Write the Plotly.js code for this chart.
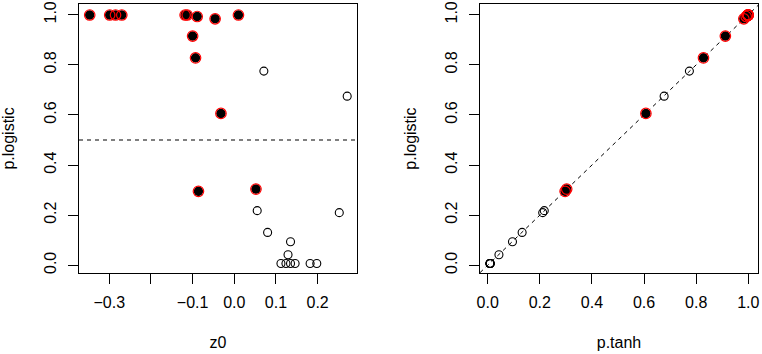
<!DOCTYPE html>
<html>
<head>
<meta charset="utf-8">
<script src="https://cdn.plot.ly/plotly-3.0.1.min.js"></script>
<style>html,body{margin:0;padding:0;background:#fff;}#chart{width:762px;height:354px;}</style>
</head>
<body>
<div id="chart"></div>
<script>
// ---- data ----
const z0 = [-0.347, -0.299, -0.285, -0.270, -0.118, -0.113, -0.089, -0.046, 0.010,
            -0.100, -0.093, -0.032, -0.086, 0.052,
            0.071, 0.271, 0.055, 0.080, 0.135, 0.129,
            0.112, 0.124, 0.135, 0.146, 0.182, 0.198, 0.252];
const p_logistic = [0.999, 0.999, 0.999, 0.999, 0.999, 0.999, 0.993, 0.984, 0.999,
                    0.915, 0.828, 0.606, 0.295, 0.304,
                    0.775, 0.675, 0.218, 0.131, 0.094, 0.042,
                    0.007, 0.007, 0.007, 0.007, 0.007, 0.007, 0.210];
const p_tanh = [0.999, 0.999, 0.999, 0.999, 0.999, 0.999, 0.992, 0.983, 0.999,
                0.912, 0.828, 0.607, 0.297, 0.303,
                0.774, 0.677, 0.217, 0.132, 0.095, 0.043,
                0.009, 0.009, 0.009, 0.009, 0.009, 0.009, 0.211];
const selected = [1,1,1,1,1,1,1,1,1, 1,1,1,1,1, 0,0,0,0,0,0, 0,0,0,0,0,0,0];
const threshold = 0.5;
const xTicksLeft = [-0.3, -0.2, -0.1, 0.0, 0.1, 0.2];
const xTickTextLeft = ["\u22120.3", "", "\u22120.1", "0.0", "0.1", "0.2"];
const xTicksRight = [0, 0.2, 0.4, 0.6, 0.8, 1.0];
const xTickTextRight = ["0.0", "0.2", "0.4", "0.6", "0.8", "1.0"];
const yTicks = [0, 0.2, 0.4, 0.6, 0.8, 1.0];
const yTickText = ["0.0", "0.2", "0.4", "0.6", "0.8", "1.0"];

// ---- build traces ----
function panelTraces(xs, ys, xa, ya) {
  const selX = xs.filter((_, i) => selected[i]);
  const selY = ys.filter((_, i) => selected[i]);
  return [
    {x: xs, y: ys, xaxis: xa, yaxis: ya, type: 'scatter', mode: 'markers', hoverinfo: 'skip',
     marker: {symbol: 'circle-open', size: 8, color: 'black', line: {width: 1.1, color: 'black'}}},
    {x: selX, y: selY, xaxis: xa, yaxis: ya, type: 'scatter', mode: 'markers', hoverinfo: 'skip',
     marker: {symbol: 'circle', size: 9, color: 'black', line: {width: 0}}},
    {x: selX, y: selY, xaxis: xa, yaxis: ya, type: 'scatter', mode: 'markers', hoverinfo: 'skip',
     marker: {symbol: 'circle-open', size: 10.5, color: 'red', line: {width: 1.2, color: 'red'}}}
  ];
}
const data = [].concat(
  panelTraces(z0, p_logistic, 'x', 'y'),
  panelTraces(p_tanh, p_logistic, 'x2', 'y2')
);

const fontFam = '"Liberation Sans", Arial, Helvetica, sans-serif';
const axisCommon = {
  showgrid: false, zeroline: false, showline: true, mirror: true,
  linecolor: 'black', linewidth: 1, ticks: 'outside', ticklen: 10, tickwidth: 1,
  tickcolor: 'black', tickfont: {family: fontFam, size: 16, color: 'black'}, automargin: false
};
const xCommon = Object.assign({}, axisCommon, {ticklabelstandoff: 5,
  title: {font: {family: fontFam, size: 16, color: 'black'}, standoff: 26}});
const yCommon = Object.assign({}, axisCommon, {tickangle: -90, ticklabelstandoff: 6,
  tickmode: 'array', tickvals: yTicks, ticktext: yTickText,
  title: {text: 'p.logistic', font: {family: fontFam, size: 16, color: 'black'}, standoff: 22}});

const layout = {
  width: 762, height: 354,
  margin: {l: 79, r: 4, t: 4, b: 81},
  paper_bgcolor: 'white', plot_bgcolor: 'white',
  showlegend: false,
  font: {family: fontFam, color: 'black'},
  xaxis: Object.assign({}, xCommon, {domain: [0, 0.4094], range: [-0.3727, 0.2945],
    tickmode: 'array', tickvals: xTicksLeft, ticktext: xTickTextLeft,
    title: Object.assign({}, xCommon.title, {text: 'z0'}), anchor: 'y'}),
  yaxis: Object.assign({}, yCommon, {range: [-0.031, 1.043], anchor: 'x'}),
  xaxis2: Object.assign({}, xCommon, {domain: [0.5906, 1], range: [-0.0296, 1.0373],
    tickmode: 'array', tickvals: xTicksRight, ticktext: xTickTextRight,
    title: Object.assign({}, xCommon.title, {text: 'p.tanh'}), anchor: 'y2'}),
  yaxis2: Object.assign({}, yCommon, {range: [-0.031, 1.043], anchor: 'x2'}),
  shapes: [
    {type: 'line', xref: 'x domain', yref: 'y', x0: 0, x1: 1, y0: threshold, y1: threshold,
     line: {color: 'black', width: 1, dash: '4px,4px'}, layer: 'below'},
    {type: 'line', xref: 'x2', yref: 'y2', x0: -0.0296, y0: -0.0296, x1: 1.043, y1: 1.043,
     line: {color: 'black', width: 1, dash: '4px,4px'}, layer: 'below'}
  ]
};

Plotly.newPlot('chart', data, layout, {staticPlot: true, displayModeBar: false});
</script>
</body>
</html>
